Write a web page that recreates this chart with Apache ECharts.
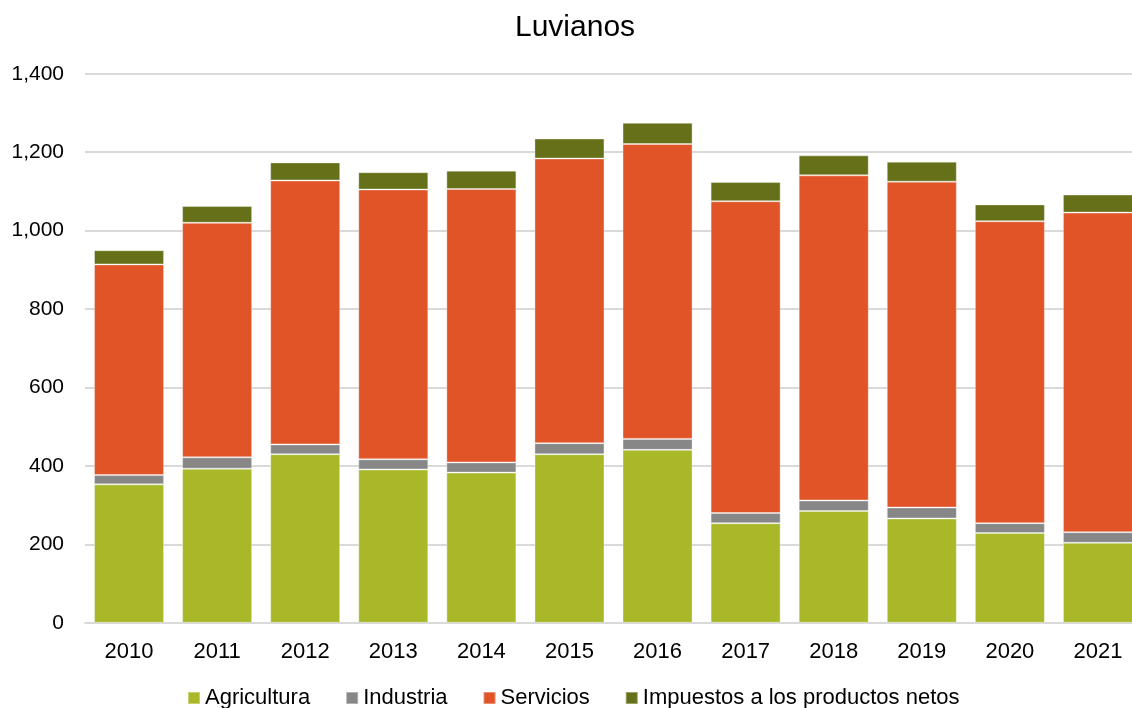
<!DOCTYPE html>
<html>
<head>
<meta charset="utf-8">
<script src="https://cdn.jsdelivr.net/npm/echarts@6/dist/echarts.min.js"></script>
<style>
  html, body { margin: 0; padding: 0; background: #fff; overflow: hidden; }
  /* plot area runs a few px past the right edge, as in the source */
  #chart { width: 1145px; height: 708px; }
</style>
</head>
<body>
<div id="chart"></div>
<script>
// Luvianos — stacked by sector, 2010–2021
const years = ['2010', '2011', '2012', '2013', '2014', '2015', '2016', '2017', '2018', '2019', '2020', '2021'];
const agricultura = [353, 393, 430, 391, 383, 430, 441, 254, 285, 266, 229, 204];
const industria = [24, 29, 25, 26, 26, 28, 28, 26, 27, 28, 25, 27];
const servicios = [537, 598, 673, 688, 697, 726, 752, 795, 829, 831, 770, 815];
const impuestos = [36, 43, 46, 44, 47, 51, 54, 49, 51, 51, 43, 46];

const font = '"Liberation Sans", Arial, sans-serif';
const edge = { borderColor: 'rgba(255, 255, 255, 0.35)', borderWidth: 1 };

const stackBar = (name, data, color) => ({
  name,
  type: 'bar',
  stack: 'total',
  data,
  barCategoryGap: '20.5%',
  itemStyle: { color, ...edge }
});

const chart = echarts.init(document.getElementById('chart'), null, { renderer: 'canvas' });
chart.setOption({
  animation: false,
  backgroundColor: '#fff',
  textStyle: { fontFamily: font },
  title: {
    text: 'Luvianos',
    left: 510,
    top: 8,
    textStyle: { fontFamily: font, fontSize: 30, fontWeight: 'normal', color: '#000' }
  },
  legend: {
    left: 182,
    top: 682,
    itemWidth: 12,
    itemHeight: 12,
    itemGap: 35,
    icon: 'rect',
    textStyle: { fontFamily: font, fontSize: 22, color: '#000' },
    data: ['Agricultura', 'Industria', 'Servicios', 'Impuestos a los productos netos']
  },
  grid: { left: 85, right: 3, top: 73.8, bottom: 85.2, containLabel: false },
  xAxis: {
    type: 'category',
    data: years,
    axisLine: { lineStyle: { color: '#d9d9d9', width: 2 } },
    axisTick: { show: false },
    axisLabel: { color: '#000', fontSize: 22, fontFamily: font, margin: 18 }
  },
  yAxis: {
    type: 'value',
    min: 0,
    max: 1400,
    interval: 200,
    axisLine: { show: false },
    axisTick: { show: false },
    axisLabel: {
      color: '#000',
      fontSize: 21,
      fontFamily: font,
      margin: 21,
      formatter: (v) => v.toLocaleString('en-US')
    },
    splitLine: { lineStyle: { color: '#d9d9d9', width: 2 } }
  },
  series: [
    stackBar('Agricultura', agricultura, '#a8b829'),
    stackBar('Industria', industria, '#878787'),
    stackBar('Servicios', servicios, '#e05427'),
    stackBar('Impuestos a los productos netos', impuestos, '#667018')
  ]
});
</script>
</body>
</html>
